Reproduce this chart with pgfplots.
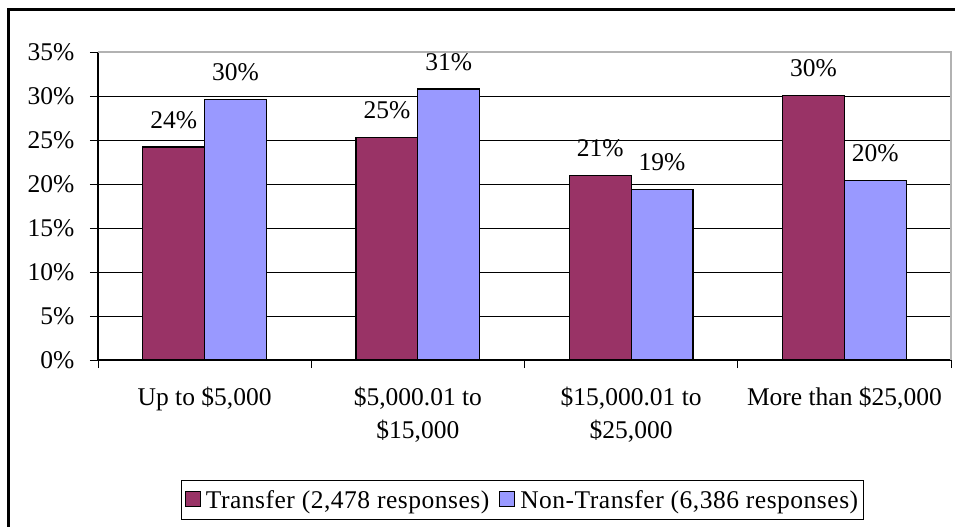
\documentclass[border=0pt]{standalone}
\usepackage{fontspec}
\setmainfont{Liberation Serif}
\usepackage{pgfplots}
\pgfplotsset{compat=1.18}
\definecolor{transfer}{HTML}{993366}
\definecolor{nontransfer}{HTML}{9999FF}

\begin{document}
\begin{tikzpicture}
\useasboundingbox (0,0) rectangle (955bp,527bp);
% outer chart frame (runs off the right and bottom edges)
\draw[line width=2.2bp] (8.5bp,-20bp) -- (8.5bp,517.5bp) -- (975bp,517.5bp);
\begin{axis}[
    at={(98bp,167bp)}, anchor=south west,
    scale only axis, width=853bp, height=308bp,
    font=\fontsize{25.5bp}{33bp}\selectfont,
    /pgf/number format/assume math mode=true,
    ybar=0pt, bar width=0.29,
    xmin=-0.5, xmax=3.5, ymin=0, ymax=35,
    axis x line*=bottom, axis y line*=left,
    axis line style={line width=1.2bp, black, -},
    tick align=outside, major tick length=8bp,
    tick style={black, line width=1bp},
    ytick={0,5,...,35},
    yticklabel={\pgfmathprintnumber{\tick}\%},
    yticklabel style={xshift=-12bp},
    xtick={-0.5,0.5,1.5,2.5,3.5}, xticklabels={},
    extra x ticks={0,1,2,3},
    extra x tick labels={{Up to \$5,000},{\$5,000.01 to\\\$15,000},{\$15,000.01 to\\\$25,000},{More than \$25,000}},
    extra x tick style={major tick length=0pt,
        xticklabel style={align=center, yshift=-24bp}},
    ymajorgrids, major grid style={black, line width=0.8bp},
    nodes near coords={\pgfmathprintnumber[fixed,precision=0]{\pgfplotspointmeta}\%},
    every node near coord/.append style={inner sep=0pt, yshift=18bp, black},
    clip=false,
    legend style={at={(0.4977,-0.4545)}, anchor=center, draw=black,
        line width=1bp, legend columns=2, inner xsep=3bp, inner ysep=8bp,
        font=\fontsize{25.5bp}{33bp}\selectfont\addfontfeature{LetterSpace=2},
        /tikz/every even column/.append style={column sep=8bp},
        /tikz/every odd column/.append style={column sep=3bp}},
    legend image code/.code={\draw[#1,draw=black,line width=1bp] (0bp,-7bp) rectangle (15bp,8bp);},
]
\addplot[fill=transfer, draw=black, line width=1.2bp]
    coordinates {(0,24.2) (1,25.3) (2,21.0) (3,30.1)};
\addplot[fill=nontransfer, draw=black, line width=1.2bp]
    coordinates {(0,29.6) (1,30.8) (2,19.4) (3,20.4)};
\legend{{Transfer (2,478 responses)}, {Non-Transfer (6,386 responses)}}
\draw[gray!60, line width=1.2bp] (rel axis cs:0,1) -- (rel axis cs:1,1) -- (rel axis cs:1,0);
\end{axis}
\end{tikzpicture}
\end{document}
